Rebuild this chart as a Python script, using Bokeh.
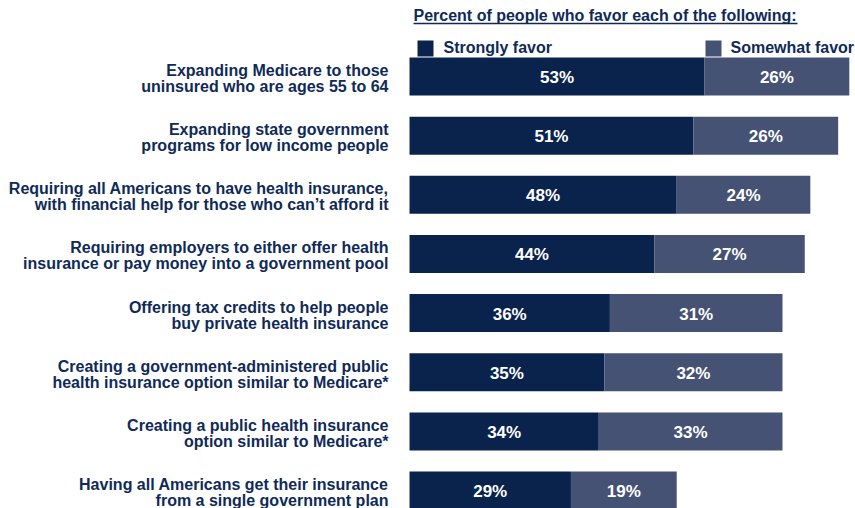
from bokeh.plotting import figure
from bokeh.models import ColumnDataSource, Range1d
from bokeh.core.properties import value
from bokeh.embed import file_html
from bokeh.resources import INLINE

# ---- data ----
labels = [
    "Expanding Medicare to those\nuninsured who are ages 55 to 64",
    "Expanding state government\nprograms for low income people",
    "Requiring all Americans to have health insurance,\nwith financial help for those who can\u2019t afford it",
    "Requiring employers to either offer health\ninsurance or pay money into a government pool",
    "Offering tax credits to help people\nbuy private health insurance",
    "Creating a government-administered public\nhealth insurance option similar to Medicare*",
    "Creating a public health insurance\noption similar to Medicare*",
    "Having all Americans get their insurance\nfrom a single government plan",
]
strongly = [53, 51, 48, 44, 36, 35, 34, 29]
somewhat = [26, 26, 24, 27, 31, 32, 33, 19]
series_names = ["Strongly favor", "Somewhat favor"]
title_text = "Percent of people who favor each of the following:"

# ---- styling ----
DARK = "#0a234d"
MID = "#465273"
TXT = "#0f2a57"
FONT = value("Liberation Sans")

W, H = 855, 508
PX_PER = 5.567          # pixels per percent
ROW = 59.15             # pixels per row
X0_PX = 409             # canvas px where 0% sits
ROW0_PX = 76            # canvas px of first row centre
TB = -6                 # text baseline correction (px)

xmin = -X0_PX / PX_PER
xmax = xmin + W / PX_PER
ytop = -ROW0_PX / ROW
ybot = ytop + H / ROW

def px_x(px):   # canvas x px -> data x
    return xmin + px / PX_PER

def px_y(py):   # canvas y px -> data y
    return ytop + py / ROW

p = figure(width=W, height=H, output_backend="svg", toolbar_location=None,
           x_range=Range1d(xmin, xmax), y_range=Range1d(ybot, ytop),
           min_border=0, x_axis_location=None, y_axis_location=None)
p.outline_line_color = None
p.xgrid.visible = False
p.ygrid.visible = False
p.background_fill_color = "white"
p.border_fill_color = "white"

rows = list(range(len(labels)))
ends = [a + b for a, b in zip(strongly, somewhat)]
src = ColumnDataSource(dict(
    y=rows, s=strongly, e=ends,
    smid=[a / 2 for a in strongly],
    wmid=[a + b / 2 for a, b in zip(strongly, somewhat)],
    slab=[f"{a}%" for a in strongly],
    wlab=[f"{b}%" for b in somewhat],
    l1=[l.split("\n")[0] for l in labels],
    l2=[l.split("\n")[1] for l in labels],
    zero=[0] * len(labels),
))

bh = 38 / ROW
p.hbar(y="y", left="zero", right="s", height=bh, source=src, fill_color=DARK, line_color=None)
p.hbar(y="y", left="s", right="e", height=bh, source=src, fill_color=MID, line_color=None)

# value labels
for xc, tc in (("smid", "slab"), ("wmid", "wlab")):
    p.text(x=xc, y="y", text=tc, source=src, text_color="white", text_font=FONT,
           text_font_style="bold", text_font_size="17px", text_align="center",
           text_baseline="alphabetic", y_offset=7 + TB)

# category labels
lab_x = px_x(388)
p.text(x=lab_x, y="y", text="l1", source=src, text_color=TXT, text_font=FONT,
       text_font_style="bold", text_font_size="16px", text_align="right",
       text_baseline="alphabetic", y_offset=0 + TB)
p.text(x=lab_x, y="y", text="l2", source=src, text_color=TXT, text_font=FONT,
       text_font_style="bold", text_font_size="16px", text_align="right",
       text_baseline="alphabetic", y_offset=16 + TB)

# title with underline
p.text(x=[px_x(413)], y=[px_y(21)], text=[title_text], text_color=TXT,
       text_font=FONT, text_font_style="bold", text_font_size="16px",
       text_align="left", text_baseline="alphabetic", y_offset=TB)
p.segment(x0=[px_x(413)], y0=[px_y(23)], x1=[px_x(797)], y1=[px_y(23)],
          line_color=TXT, line_width=1.5)

# legend
sq = 16
for name, col, sqx, tx in ((series_names[0], DARK, 417, 443), (series_names[1], MID, 705, 730)):
    p.rect(x=[px_x(sqx + sq / 2)], y=[px_y(48)], width=sq / PX_PER, height=sq / ROW,
           fill_color=col, line_color=None)
    p.text(x=[px_x(tx)], y=[px_y(53)], text=[name], text_color=TXT, text_font=FONT,
           text_font_style="bold", text_font_size="16px", text_align="left",
           text_baseline="alphabetic", y_offset=TB)

open("out.html", "w").write(file_html(p, INLINE))
